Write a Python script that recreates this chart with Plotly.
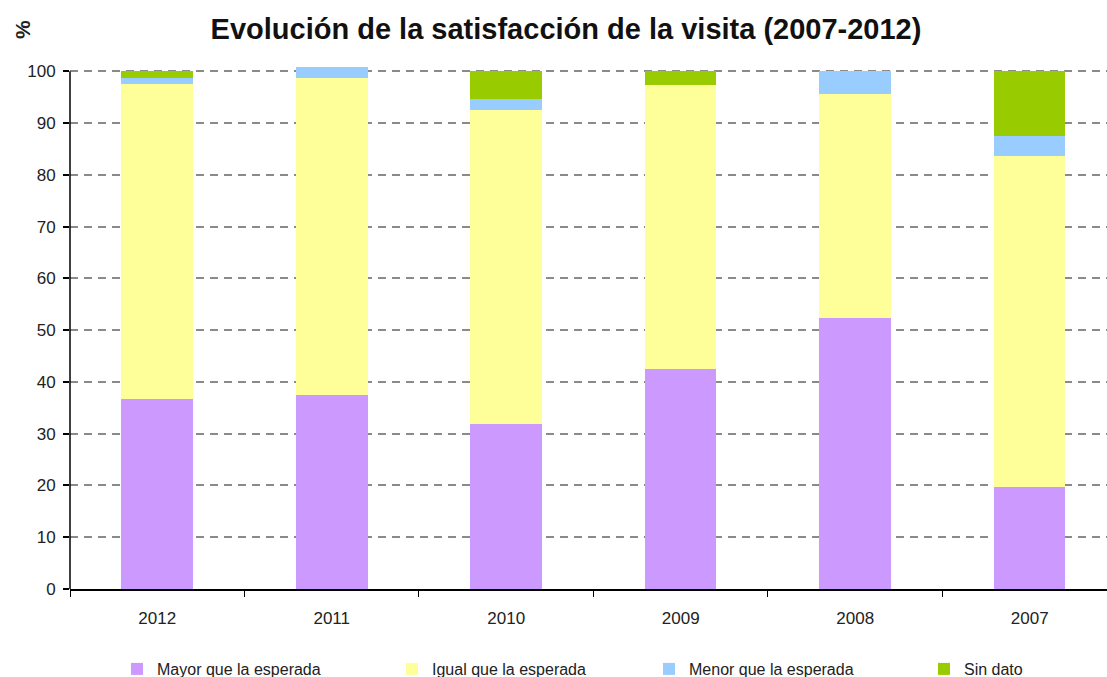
import plotly.graph_objects as go

# Survey years (most recent first) and share of responses per category (%)
years = ["2012", "2011", "2010", "2009", "2008", "2007"]
mayor = [36.7, 37.4, 31.9, 42.5, 52.3, 19.7]
igual = [60.8, 61.4, 60.7, 54.9, 43.4, 63.9]
menor = [1.3, 2.0, 2.0, 0.0, 4.3, 3.9]
sin_dato = [1.2, 0.0, 5.4, 2.6, 0.0, 12.5]
y_ticks = [0, 10, 20, 30, 40, 50, 60, 70, 80, 90, 100]

series = [
    ("Mayor que la esperada", mayor, "#CC99FF", "legend", 117),
    ("Igual que la esperada", igual, "#FFFF99", "legend2", 392),
    ("Menor que la esperada", menor, "#99CCFF", "legend3", 649),
    ("Sin dato", sin_dato, "#99CC00", "legend4", 924),
]

FONT = "Liberation Sans, Arial, sans-serif"
W, H = 1107, 677
M_L, M_R, M_T, M_B = 70, 0, 61, 88
PLOT_W = W - M_L - M_R
PLOT_H = H - M_T - M_B

fig = go.Figure()
for name, vals, color, lg, _ in series:
    fig.add_trace(go.Bar(
        x=years, y=vals, name=name, legend=lg,
        marker=dict(color=color, line=dict(width=0)),
        width=0.41,
    ))

# one legend per series, laid out in a row under the chart
legends = {}
for name, vals, color, lg, left in series:
    legends[lg] = dict(
        orientation="h",
        xref="container", x=left / W, xanchor="left",
        yref="container", y=1 - 669 / H, yanchor="middle",
        font=dict(family=FONT, size=16, color="#222"),
        bgcolor="rgba(0,0,0,0)", itemwidth=30,
    )

fig.update_layout(
    width=W, height=H,
    margin=dict(l=M_L, r=M_R, t=M_T, b=M_B),
    paper_bgcolor="white", plot_bgcolor="white",
    barmode="stack",
    showlegend=True,
    title=dict(
        text="<b>Evolución de la satisfacción de la visita (2007-2012)</b>",
        x=566 / W, xanchor="center", xref="container",
        y=1 - 29 / H, yanchor="middle", yref="container",
        font=dict(family=FONT, size=29, color="#111"),
    ),
    **legends,
    xaxis=dict(
        type="category", range=[-0.5, 5.443],
        showline=True, linecolor="black", linewidth=1.5,
        ticks="outside", tickson="boundaries", ticklen=6, tickcolor="black",
        showgrid=False, zeroline=False, ticklabelstandoff=13,
        tickfont=dict(family=FONT, size=17, color="#222"),
    ),
    yaxis=dict(
        range=[0, 102], tickvals=y_ticks,
        showline=False,
        ticks="outside", ticklen=6, tickcolor="black", tickwidth=1.5,
        showgrid=True, gridcolor="#8a8a8a", griddash="8px,6px", gridwidth=1.5,
        zeroline=False, ticklabelstandoff=4,
        tickfont=dict(family=FONT, size=17, color="#222"),
    ),
    shapes=[dict(
        type="line", xref="paper", yref="y",
        x0=0, x1=0, y0=0, y1=100,
        line=dict(color="black", width=1.5),
    )],
    annotations=[dict(
        text="<b>%</b>", xref="paper", yref="paper",
        x=(22 - M_L) / PLOT_W, y=(H - M_B - 30) / PLOT_H,
        showarrow=False, textangle=-90,
        xanchor="center", yanchor="middle",
        font=dict(family=FONT, size=21, color="#222"),
    )],
)

fig.write_html("out.html")
